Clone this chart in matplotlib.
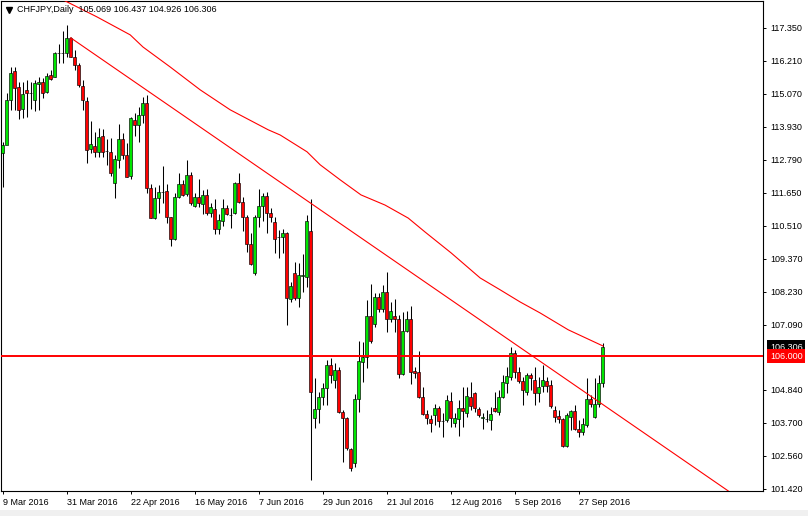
import matplotlib
matplotlib.use('Agg')
import matplotlib.pyplot as plt
import numpy as np
from matplotlib.transforms import blended_transform_factory
from matplotlib.patches import Rectangle
from matplotlib.lines import Line2D

plt.rcParams['font.family'] = ['Liberation Sans', 'DejaVu Sans']

# ---- data (CHFJPY daily candles, bar index 0 = 9 Mar 2016) ----
opens = [113.02, 113.30, 114.85, 115.86, 115.30, 114.54, 115.20, 115.09, 114.85, 115.40,
         115.47, 115.13, 115.72, 115.65, 116.48, 116.47, 116.48, 116.99, 116.34, 116.06,
         115.33, 114.82, 113.16, 113.26, 113.06, 113.61, 113.09, 113.06, 111.98, 112.78,
         113.50, 112.95, 112.23, 114.16, 113.99, 114.33, 114.75, 111.81, 110.78, 111.47,
         111.67, 111.71, 110.81, 110.05, 111.50, 111.95, 111.60, 112.26, 111.19, 111.50,
         111.26, 111.57, 110.95, 111.09, 110.40, 110.67, 111.12, 110.88, 110.95, 111.98,
         111.33, 110.81, 109.88, 108.88, 110.81, 111.19, 111.54, 110.95, 110.64, 110.12,
         110.12, 110.26, 107.98, 108.87, 108.01, 108.78, 108.74, 110.33, 103.87, 104.18,
         104.59, 104.90, 105.70, 105.18, 105.52, 104.07, 103.87, 102.79, 102.31, 104.52,
         105.80, 105.97, 107.39, 107.11, 108.05, 107.63, 108.22, 107.29, 107.39, 107.29,
         105.39, 106.87, 107.29, 105.49, 105.45, 104.59, 104.00, 103.83, 103.97, 104.21,
         103.76, 103.80, 104.45, 103.69, 103.83, 104.21, 104.04, 104.59, 104.73, 104.18,
         103.87, 103.84, 103.80, 104.21, 104.07, 104.59, 105.07, 105.28, 106.11, 105.45,
         105.14, 104.76, 105.35, 105.18, 104.73, 104.97, 105.14, 105.01, 104.14, 103.93,
         103.83, 102.90, 103.90, 104.11, 103.49, 103.38, 103.62, 104.52, 103.90, 104.35,
         105.069]
highs = [113.41, 115.09, 115.99, 115.99, 115.47, 115.47, 115.54, 115.47, 115.54, 115.65,
         115.61, 115.79, 115.89, 116.51, 116.79, 117.24, 117.44, 117.02, 116.58, 116.13,
         115.54, 114.96, 114.13, 113.75, 113.88, 113.85, 113.50, 113.54, 112.95, 114.02,
         113.71, 113.37, 114.27, 114.40, 114.61, 114.96, 115.02, 111.95, 111.85, 111.92,
         112.57, 111.95, 110.81, 111.64, 112.33, 112.09, 112.78, 112.37, 111.64, 112.12,
         111.74, 111.78, 111.29, 111.43, 110.91, 111.43, 111.22, 111.12, 112.02, 112.33,
         111.50, 110.88, 110.26, 110.88, 111.78, 111.64, 111.67, 111.12, 110.81, 110.36,
         110.40, 110.29, 108.56, 109.26, 109.22, 109.53, 110.88, 111.43, 105.25, 104.76,
         105.07, 105.87, 105.94, 105.76, 105.63, 104.14, 103.90, 102.83, 104.69, 106.53,
         106.49, 107.94, 108.50, 108.18, 108.18, 108.46, 108.91, 107.87, 107.98, 107.42,
         107.53, 107.56, 107.73, 105.63, 106.18, 104.94, 104.14, 103.97, 104.35, 104.28,
         104.04, 104.66, 104.76, 104.04, 104.49, 104.94, 104.94, 105.11, 104.76, 104.25,
         104.04, 104.14, 104.25, 104.76, 104.83, 105.35, 105.63, 106.32, 106.22, 105.63,
         105.28, 105.42, 105.42, 105.63, 105.28, 105.70, 105.28, 105.18, 104.28, 104.14,
         103.87, 104.04, 104.14, 104.31, 103.80, 103.87, 105.25, 104.66, 105.25, 105.35,
         106.437]
lows = [111.85, 113.47, 114.51, 114.51, 114.20, 114.23, 114.27, 114.54, 114.47, 114.51,
        114.92, 115.09, 115.54, 115.65, 116.13, 116.13, 116.34, 116.34, 115.89, 115.30,
        114.51, 112.68, 113.02, 112.88, 112.88, 112.88, 112.61, 112.23, 111.47, 112.50,
        112.81, 112.19, 112.12, 113.61, 113.40, 114.06, 111.64, 110.78, 110.74, 110.95,
        111.29, 110.60, 109.81, 110.02, 111.47, 111.54, 111.54, 111.22, 111.16, 111.16,
        110.91, 110.88, 110.81, 110.22, 110.22, 110.50, 110.88, 110.43, 110.91, 111.29,
        110.33, 109.60, 109.15, 108.81, 110.46, 110.67, 110.26, 110.64, 109.57, 109.39,
        109.57, 107.08, 107.87, 107.94, 107.70, 108.22, 108.39, 101.72, 103.52, 103.69,
        104.31, 104.31, 105.07, 104.90, 104.04, 102.35, 102.76, 102.03, 102.17, 104.07,
        105.11, 105.59, 106.46, 107.01, 107.53, 107.53, 106.84, 107.18, 106.84, 105.25,
        105.35, 106.84, 105.04, 105.25, 104.56, 103.97, 103.66, 103.38, 103.62, 103.55,
        103.21, 103.73, 103.55, 103.55, 103.24, 103.55, 103.90, 104.14, 104.07, 103.90,
        103.49, 103.73, 103.45, 104.07, 103.97, 104.56, 104.73, 105.18, 105.25, 105.07,
        104.31, 104.66, 104.83, 104.31, 104.42, 104.76, 104.76, 104.21, 103.73, 103.69,
        102.86, 102.86, 103.45, 103.45, 103.21, 103.28, 103.55, 104.25, 103.87, 104.25,
        104.926]
closes = [113.30, 114.85, 115.79, 115.27, 114.51, 115.06, 115.09, 115.10, 115.44, 115.47,
          115.09, 115.68, 115.58, 116.48, 116.47, 116.49, 116.99, 116.34, 116.06, 115.37,
          114.85, 113.13, 113.33, 113.06, 113.57, 113.06, 113.10, 112.33, 112.81, 113.50,
          112.95, 112.19, 114.23, 113.99, 114.33, 114.75, 111.81, 110.78, 111.47, 111.67,
          111.68, 110.81, 110.05, 111.50, 111.95, 111.57, 112.26, 111.29, 111.50, 111.29,
          111.57, 110.95, 111.16, 110.40, 110.71, 111.12, 110.91, 110.87, 111.98, 111.33,
          110.81, 109.88, 109.19, 110.81, 111.19, 111.54, 110.95, 110.81, 110.05, 110.11,
          110.26, 108.01, 108.43, 108.01, 108.81, 108.80, 110.67, 104.76, 104.18, 104.59,
          104.90, 105.70, 105.35, 105.52, 104.07, 103.87, 102.83, 102.14, 104.52, 105.83,
          105.97, 107.39, 106.53, 108.05, 107.63, 108.22, 107.29, 107.56, 107.29, 105.39,
          106.87, 107.29, 105.45, 105.42, 104.59, 104.00, 103.87, 103.69, 104.21, 103.76,
          103.77, 104.49, 103.87, 103.87, 104.21, 104.11, 104.63, 104.28, 104.21, 103.97,
          103.88, 103.83, 104.00, 104.11, 104.59, 105.11, 105.32, 106.11, 105.45, 105.14,
          104.83, 105.35, 105.25, 104.73, 104.94, 105.18, 104.97, 104.28, 103.90, 103.83,
          102.90, 103.97, 104.11, 103.49, 103.38, 103.66, 104.52, 104.35, 104.35, 105.07,
          106.306]

# moving average line (bar index, price)
ma_idx = [15.1, 23.6, 31.9, 35.1, 41.9, 49.4, 56.9, 66.4, 69.4, 76.1, 79.4, 84.4,
          89.6, 95.6, 101.4, 105.6, 112.1, 119.4, 124.4, 129.4, 134.4, 141.4, 150.1]
ma_val = [118.31, 117.72, 117.10, 116.68, 115.99, 115.20, 114.51, 113.82, 113.64, 113.06,
          112.61, 112.09, 111.57, 111.22, 110.77, 110.29, 109.57, 108.70, 108.29, 107.87,
          107.49, 106.91, 106.35]

# descending trendline anchors
trend_idx = [17, 185]
trend_val = [117.00, 101.00]

level = 106.000
last_price = 106.306
title_text = 'CHFJPY,Daily  105.069 106.437 104.926 106.306'

ytick_vals = [117.35, 116.21, 115.07, 113.93, 112.79, 111.65, 110.51, 109.37,
              108.23, 107.09, 104.84, 103.70, 102.56, 101.42]
date_idx = [0, 16, 32, 48, 64, 80, 96, 112, 128, 144]
date_labels = ['9 Mar 2016', '31 Mar 2016', '22 Apr 2016', '16 May 2016', '7 Jun 2016',
               '29 Jun 2016', '21 Jul 2016', '12 Aug 2016', '5 Sep 2016', '27 Sep 2016']

# ---- figure ----
W, H = 808, 516
fig = plt.figure(figsize=(W / 100, H / 100), dpi=100)
fig.patch.set_facecolor('white')
fig.patches.append(Rectangle((0, 0), 1, 6 / H, transform=fig.transFigure,
                             facecolor='#f0f0f0', edgecolor='none', zorder=-5))
ax = fig.add_axes([1 / W, 25 / H, 762 / W, 490 / H])
ax.set_facecolor('white')

o = np.array(opens); c = np.array(closes); h = np.array(highs); l = np.array(lows)
x = np.arange(len(o))
colors = ['#00e600' if cc > oo else '#ff0000' for oo, cc in zip(o, c)]
ax.vlines(x, l, h, color='black', lw=0.75, zorder=2)
ax.bar(x, np.abs(c - o), bottom=np.minimum(o, c), width=0.78, color=colors,
       edgecolor='black', linewidth=0.45, zorder=3)

ax.plot(ma_idx, ma_val, color='#ff0000', lw=0.8, zorder=4)
ax.plot(trend_idx, trend_val, color='#ff0000', lw=0.8, zorder=4)
ax.axhline(level, color='#ff0000', lw=1.4, zorder=4)

ax.set_xlim(-0.4, 190.1)
ax.set_ylim(101.34, 118.27)

for sp in ax.spines.values():
    sp.set_color('black')
    sp.set_linewidth(0.8)

ax.yaxis.tick_right()
ax.set_yticks(ytick_vals)
ax.set_yticklabels(['%.3f' % v for v in ytick_vals])
ax.tick_params(axis='y', length=2.5, width=0.7, pad=2.5, labelsize=6.5, colors='black')
ax.set_xticks(date_idx)
ax.set_xticklabels(date_labels)
ax.tick_params(axis='x', length=2.5, width=0.7, pad=2.5, labelsize=6.5, colors='black')
for t in ax.get_xticklabels():
    t.set_ha('left')

trans = blended_transform_factory(ax.transAxes, ax.transData)
ax.text(1.009, last_price, '%.3f' % last_price, transform=trans, ha='left', va='center',
        fontsize=6.5, color='white', clip_on=False, zorder=6,
        bbox=dict(boxstyle='square,pad=0.3', fc='black', ec='none'))
ax.text(1.009, level, '%.3f' % level, transform=trans, ha='left', va='center',
        fontsize=6.5, color='white', clip_on=False, zorder=7,
        bbox=dict(boxstyle='square,pad=0.3', fc='#ff0000', ec='none'))

fig.text(17 / W, 1 - 9.5 / H, title_text, fontsize=6.5, va='center', ha='left', color='black')
fig.add_artist(Line2D([8.5 / W], [1 - 10 / H], marker='v', markersize=4, color='black',
                      linestyle='none', transform=fig.transFigure))

fig.savefig('out.png', dpi=100)
